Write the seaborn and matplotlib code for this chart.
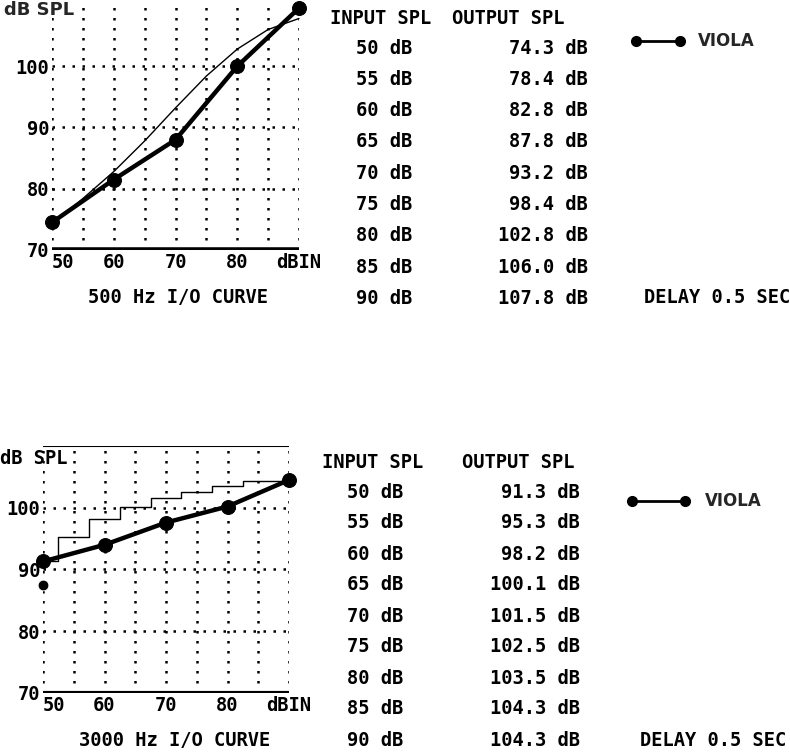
import matplotlib
matplotlib.use("Agg")
import matplotlib.pyplot as plt
from matplotlib.lines import Line2D
import seaborn as sns

# --- data ---
input_spl = [50, 55, 60, 65, 70, 75, 80, 85, 90]
output_500 = [74.3, 78.4, 82.8, 87.8, 93.2, 98.4, 102.8, 106.0, 107.8]
output_3000 = [91.3, 95.3, 98.2, 100.1, 101.5, 102.5, 103.5, 104.3, 104.3]

viola_in = [50, 60, 70, 80, 90]
viola_500 = [74.5, 81.5, 88.0, 100.0, 109.5]
viola_3000 = [91.3, 94.0, 97.6, 100.2, 104.5]
viola_3000_extra_in = [50]
viola_3000_extra = [87.5]

x_ticks = [50, 60, 70, 80, 90]
x_tick_labels = ["50", "60", "70", "80", "dBIN"]
y_ticks = [70, 80, 90, 100]
y_tick_labels = ["70", "80", "90", "100"]
captions = ["500 Hz I/O CURVE", "3000 Hz I/O CURVE"]
delay_text = "DELAY 0.5 SEC"

sns.set_theme(style="white")
plt.rcParams["font.family"] = ["DejaVu Sans Mono", "DejaVu Sans"]

W, H = 790, 752
fig = plt.figure(figsize=(W / 100, H / 100), dpi=100)


def fx(px):
    return px / W


def fy(py):
    return 1 - py / H


mono = dict(family="DejaVu Sans Mono", weight="bold", color="black")
FS = 13.5


def draw_panel(rect, table_out, viola_out, top_line, bottom_lw, steps):
    ax = fig.add_axes(rect)
    ax.set_xlim(50, 90)
    ax.set_ylim(70, 110)
    for s in ax.spines.values():
        s.set_visible(False)
    # dotted grid
    for xv in range(50, 91, 5):
        ax.axvline(xv, color="black", ls=(0, (1, 3)), lw=1.8, zorder=1)
    for yv in [80, 90, 100]:
        ax.axhline(yv, color="black", ls=(0, (1, 3)), lw=1.8, zorder=1)
    ax.axhline(70, color="black", lw=bottom_lw, zorder=3)
    if top_line:
        ax.axhline(110, color="black", lw=1.5, zorder=3)
    # instrument curve (thin)
    sns.lineplot(x=input_spl, y=table_out, ax=ax, color="black", lw=1.0,
                 drawstyle="steps-mid" if steps else "default", zorder=2,
                 clip_on=False)
    # viola curve
    sns.lineplot(x=viola_in, y=viola_out, ax=ax, color="black", lw=3.2,
                 marker="o", markersize=10, markeredgecolor="black", zorder=4,
                 clip_on=False)
    ax.set_xticks(x_ticks)
    ax.set_xticklabels(x_tick_labels, fontsize=FS, **mono)
    ax.set_yticks(y_ticks)
    ax.set_yticklabels(y_tick_labels, fontsize=FS, **mono)
    ax.tick_params(axis="both", length=0, pad=2)
    ax.get_xticklabels()[0].set_ha("left")
    ax.set_xlabel("")
    ax.set_ylabel("")
    return ax


# top panel (500 Hz)
ax1 = draw_panel([fx(52), fy(250), fx(299) - fx(52), fy(5) - fy(250)],
                 output_500, viola_500, False, 4, False)
# bottom panel (3000 Hz)
ax2 = draw_panel([fx(43), fy(693), fx(289) - fx(43), fy(446) - fy(693)],
                 output_3000, viola_3000, True, 3, True)
sns.scatterplot(x=viola_3000_extra_in, y=viola_3000_extra, ax=ax2, color="black",
                s=60, zorder=5, legend=False, clip_on=False)

# axis titles / captions
fig.text(fx(4), fy(10), "dB SPL", fontsize=13, va="center", ha="left",
         family="DejaVu Sans", weight="bold")
fig.text(fx(0), fy(458), "dB SPL", fontsize=FS, va="center", ha="left", **mono)
fig.text(fx(178), fy(298), captions[0], fontsize=FS, va="center", ha="center", **mono)
fig.text(fx(175), fy(740), captions[1], fontsize=FS, va="center", ha="center", **mono)


# tables
def draw_table(head_y, row_y0, dy, in_x, head_in_x, head_out_x, out_right, outs):
    fig.text(fx(head_in_x), fy(head_y), "INPUT SPL", fontsize=FS, va="center", **mono)
    fig.text(fx(head_out_x), fy(head_y), "OUTPUT SPL", fontsize=FS, va="center", **mono)
    for i, (a, b) in enumerate(zip(input_spl, outs)):
        y = row_y0 + dy * i
        fig.text(fx(in_x), fy(y), f"{a} dB", fontsize=FS, va="center", **mono)
        fig.text(fx(out_right), fy(y), f"{b:.1f} dB", fontsize=FS, va="center",
                 ha="right", **mono)


draw_table(18, 48, 31.3, 356, 330, 452, 588, output_500)
draw_table(463, 492, 31.0, 347, 322, 462, 580, output_3000)

fig.text(fx(790), fy(298), delay_text, fontsize=FS, va="center", ha="right", **mono)
fig.text(fx(786), fy(740), delay_text, fontsize=FS, va="center", ha="right", **mono)


# hand-drawn legend
def draw_legend(x0, x1, y, tx):
    fig.add_artist(Line2D([fx(x0), fx(x1)], [fy(y), fy(y)], color="black", lw=2,
                          marker="o", markersize=7, markevery=[0, 1],
                          transform=fig.transFigure))
    fig.text(fx(tx), fy(y), "VIOLA", fontsize=12, va="center", ha="left",
             family="DejaVu Sans", weight="bold")


draw_legend(636, 680, 41, 698)
draw_legend(632, 685, 501, 705)

plt.savefig("out.png", dpi=100)
